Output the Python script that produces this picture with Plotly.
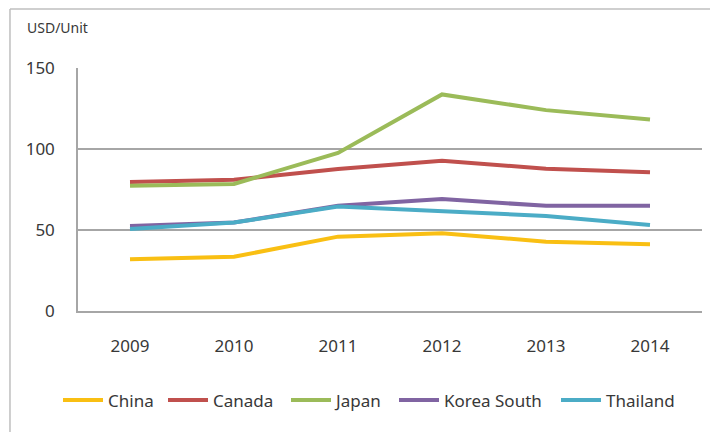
import plotly.graph_objects as go

years = ["2009", "2010", "2011", "2012", "2013", "2014"]
china = [31.9, 33.5, 45.9, 48.0, 42.8, 41.2]
canada = [79.6, 81.0, 87.6, 92.8, 87.8, 85.6]
japan = [77.3, 78.4, 97.6, 133.7, 124.0, 118.2]
korea = [52.5, 54.6, 65.0, 69.1, 64.9, 64.9]
thailand = [50.6, 54.6, 64.5, 61.4, 58.7, 53.1]
y_ticks = [0, 50, 100, 150]

series = [
    ("China", china, "#F9BF13"),
    ("Canada", canada, "#C0504D"),
    ("Japan", japan, "#9BBB59"),
    ("Korea South", korea, "#8064A2"),
    ("Thailand", thailand, "#4BACC6"),
]

FONT = "Noto Sans, sans-serif"
ML, MR, MT, MB = 78, 8, 68, 121
W, H = 710, 432
PW = W - ML - MR
PH = H - MT - MB

# legend line start x positions (pixels) in the reference
leg_px = [63, 168, 291, 399, 561]
LEG_Y = 400.5

fig = go.Figure()
legend_cfg = {}
for i, (name, vals, col) in enumerate(series):
    lname = "legend" if i == 0 else f"legend{i+1}"
    fig.add_trace(go.Scatter(x=years, y=vals, name=name, mode="lines",
                             line=dict(color=col, width=4), legend=lname))
    legend_cfg[lname] = dict(
        x=(leg_px[i] - 5 - ML) / PW, xanchor="left",
        y=(MT + PH - LEG_Y) / PH, yanchor="middle",
        orientation="h", itemwidth=40, bgcolor="rgba(0,0,0,0)",
        font=dict(size=17, color="#383838", family=FONT),
    )

fig.update_layout(
    width=W, height=H,
    margin=dict(l=ML, r=MR, t=MT, b=MB),
    paper_bgcolor="white", plot_bgcolor="white",
    font=dict(family=FONT, size=17, color="#383838"),
    showlegend=True,
    xaxis=dict(type="category", range=[-0.5, 5.5], showgrid=False,
               showline=True, linecolor="#A6A6A6", linewidth=1.5,
               ticks="", ticklabelstandoff=19, tickfont=dict(size=17)),
    yaxis=dict(range=[0, 150], tickvals=y_ticks, showgrid=True, gridcolor="#A6A6A6",
               gridwidth=1.5, showline=True, linecolor="#A6A6A6", linewidth=1.5,
               zeroline=False, ticks="", ticklabelstandoff=18, tickfont=dict(size=17)),
    shapes=[
        dict(type="line", xref="paper", yref="paper", x0=-0.109, x1=1.02, y0=1.243, y1=1.243,
             line=dict(color="#BFBFBF", width=1.5)),
        dict(type="line", xref="paper", yref="paper", x0=-0.109, x1=-0.109, y0=1.243, y1=-0.6,
             line=dict(color="#BFBFBF", width=1.5)),
    ],
    annotations=[
        dict(text="USD/Unit", xref="paper", yref="paper", x=-0.085, y=1.165,
             xanchor="left", yanchor="middle", showarrow=False,
             font=dict(size=14, color="#383838", family=FONT)),
    ],
    **legend_cfg,
)

fig.write_html("out.html", config={"displayModeBar": False},
               post_script="document.body.style.margin='0px';")
